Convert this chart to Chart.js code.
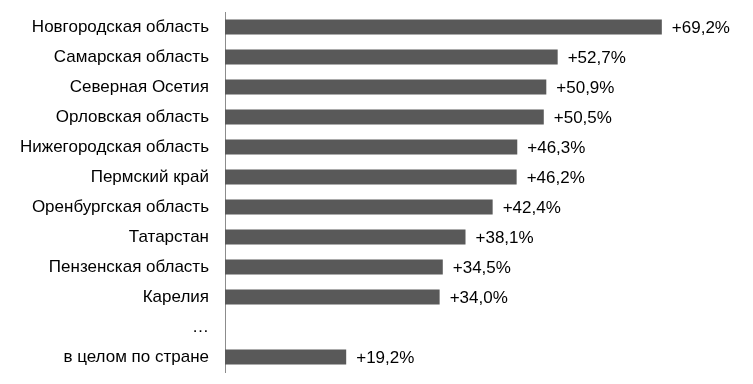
<!DOCTYPE html>
<html>
<head>
<meta charset="utf-8">
<script src="https://cdn.jsdelivr.net/npm/chart.js@4/dist/chart.umd.min.js"></script>
<style>
  html, body { margin: 0; padding: 0; background: #fff; }
  #wrap { width: 753px; height: 384px; }
</style>
</head>
<body>
<div id="wrap"><canvas id="grafico" width="753" height="384"></canvas></div>
<script>
// Регионы и прирост, %
const regioes = [
  "Новгородская область", "Самарская область", "Северная Осетия", "Орловская область",
  "Нижегородская область", "Пермский край", "Оренбургская область", "Татарстан",
  "Пензенская область", "Карелия", "…", "в целом по стране"
];
const valores = [69.2, 52.7, 50.9, 50.5, 46.3, 46.2, 42.4, 38.1, 34.5, 34.0, null, 19.2];
const rotulos = ["+69,2%", "+52,7%", "+50,9%", "+50,5%", "+46,3%", "+46,2%", "+42,4%",
  "+38,1%", "+34,5%", "+34,0%", "", "+19,2%"];

const fonte = "'Liberation Sans', Arial, sans-serif";

// Подписи значений справа от столбцов
const rotulosPlugin = {
  id: 'rotulos',
  afterDatasetsDraw(chart) {
    const ctx = chart.ctx;
    const meta = chart.getDatasetMeta(0);
    ctx.save();
    ctx.font = "17px " + fonte;
    ctx.fillStyle = "#000";
    ctx.textBaseline = "middle";
    ctx.textAlign = "left";
    meta.data.forEach((bar, i) => {
      if (valores[i] == null) return;
      ctx.fillText(rotulos[i], bar.x + 10, bar.y + 1);
    });
    ctx.restore();
  }
};

new Chart(document.getElementById('grafico').getContext('2d'), {
  type: 'bar',
  data: {
    labels: regioes,
    datasets: [{
      data: valores,
      backgroundColor: '#595959',
      categoryPercentage: 1,
      barPercentage: 0.5
    }]
  },
  options: {
    indexAxis: 'y',
    responsive: false,
    animation: false,
    layout: { padding: { top: 12, bottom: 12, right: 23, left: 0 } },
    plugins: { legend: { display: false }, tooltip: { enabled: false } },
    scales: {
      x: { display: false, min: 0, max: 80 },
      y: {
        grid: { display: false, drawTicks: false },
        border: { display: true, color: '#8c8c8c', width: 1 },
        ticks: { color: '#000', font: { family: fonte, size: 17, lineHeight: 1 }, padding: 16 },
        afterFit(scale) {
          scale.width = 225;
          scale.paddingTop = 0;
          scale.paddingBottom = 0;
        }
      }
    }
  },
  plugins: [rotulosPlugin]
});
</script>
</body>
</html>
